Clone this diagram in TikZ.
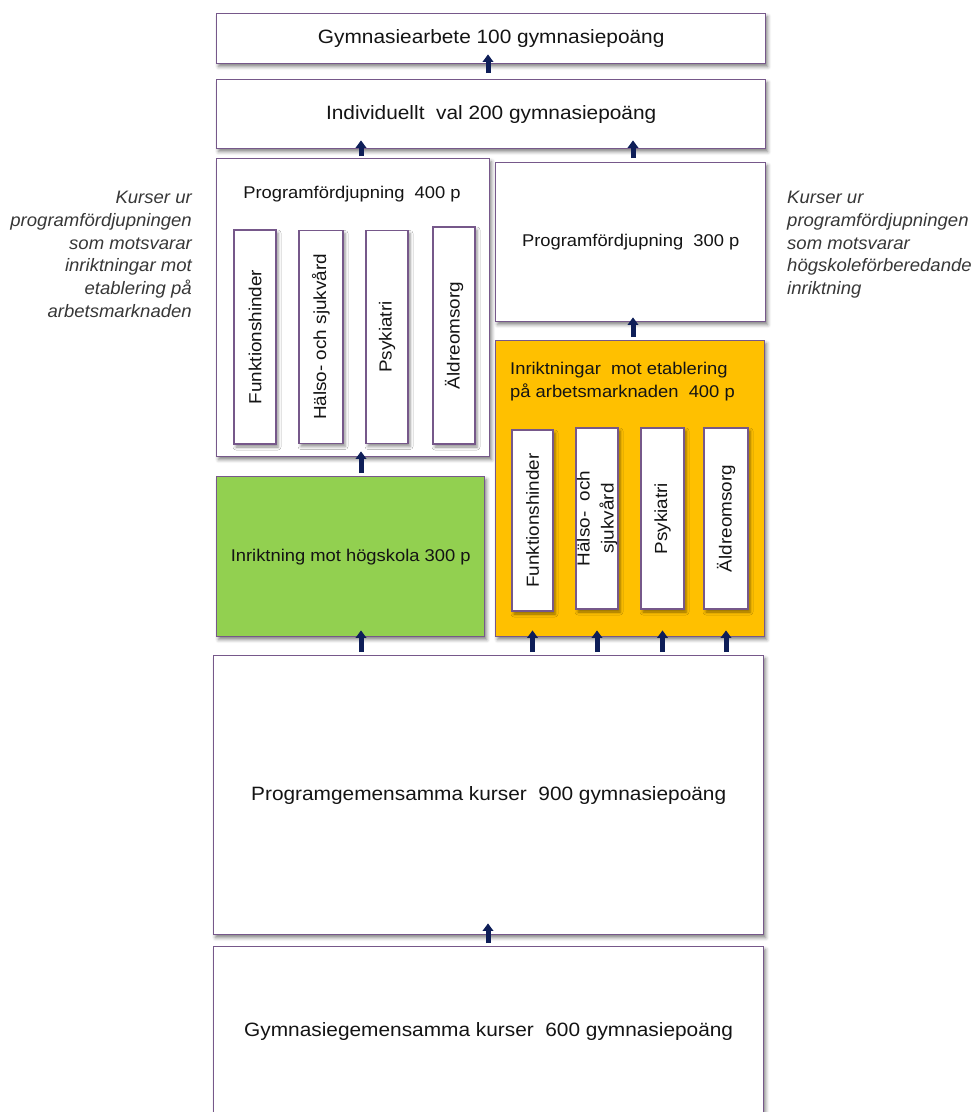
\documentclass[tikz,border=0pt]{standalone}
\usepackage{fontspec}
\setmainfont{Liberation Sans}[FakeStretch=1.08]
\newfontfamily\sidef{Liberation Sans}[FakeStretch=1.03]
\usetikzlibrary{arrows.meta,shadows.blur,calc}
\definecolor{bord}{RGB}{118,88,138}
\definecolor{navy}{RGB}{14,30,88}
\definecolor{grn}{RGB}{146,208,80}
\definecolor{org}{RGB}{255,192,0}
\definecolor{txt}{RGB}{20,20,20}
\definecolor{sidec}{RGB}{55,55,55}
\begin{document}
\begin{tikzpicture}[x=1pt,y=-1pt,
 box/.style={draw=bord, line width=1.4pt, fill=white, inner sep=0pt, anchor=north west, text=txt,
   blur shadow={shadow xshift=2pt,shadow yshift=-3pt,shadow blur radius=3.5pt,shadow opacity=50}},
 subbox/.style={draw=bord, line width=1.4pt, fill=white, inner sep=0pt, anchor=center,
   blur shadow={shadow xshift=2pt,shadow yshift=-3pt,shadow blur radius=3pt,shadow opacity=45}},
 big/.style={font=\fontsize{19.3}{22}\selectfont},
 mid/.style={font=\fontsize{17}{22.5}\selectfont, text=txt},
 rot/.style={font=\fontsize{17.5}{24}\selectfont, text=txt, rotate=90, inner sep=0pt, align=center},
 arr/.style={navy, line width=5pt, -{Triangle[width=10.5pt,length=7.5pt]}},
 sidetxt/.style={text=sidec, font=\sidef\fontsize{18}{22.8}\selectfont\itshape, inner sep=0pt}
]
\useasboundingbox (0,0) rectangle (974,1112);

% top boxes
\node[box,big,minimum width=549pt,minimum height=50pt] (b1) at (216,13) {Gymnasiearbete 100 gymnasiepoäng};
\node[box,big,minimum width=549pt,minimum height=69pt] (b2) at (216,79) {Individuellt\ \ val 200 gymnasiepoäng};

% left programfördjupning
\node[box,minimum width=273pt,minimum height=298pt] (pf4) at (216,158) {};
\node[mid,inner sep=0pt] (t4) at (352,194) {Programfördjupning\ \ 400 p};
\node[subbox,minimum width=42pt,minimum height=214pt] (lf) at (255,337) {};
\node[rot] (lft) at (lf) {Funktionshinder};
\node[subbox,minimum width=44pt,minimum height=213pt] (lh) at (321,337) {};
\node[rot] (lht) at (lh) {Hälso- och sjukvård};
\node[subbox,minimum width=42pt,minimum height=213pt] (lp) at (387,337) {};
\node[rot] (lpt) at (lp) {Psykiatri};
\node[subbox,minimum width=42pt,minimum height=217pt] (la) at (454,335.5) {};
\node[rot] (lat) at (la) {Äldreomsorg};

% right programfördjupning
\node[box,mid,minimum width=270pt,minimum height=159pt] (pf3) at (495,162) {Programfördjupning\ \ 300 p};

% orange
\node[box,fill=org,minimum width=269pt,minimum height=296pt] (org) at (495,340) {};
\node[mid,inner sep=0pt,align=left,anchor=north west] (ot) at (510,362) {Inriktningar\ \ mot etablering\\på arbetsmarknaden\ \ 400 p};
\node[subbox,minimum width=41pt,minimum height=181pt] (of) at (532.5,520.5) {};
\node[rot] (oft) at (of) {Funktionshinder};
\node[subbox,minimum width=42pt,minimum height=181pt] (oh) at (597,518.5) {};
\node[rot] (oht) at (oh) {Hälso-\ \ och\\sjukvård};
\node[subbox,minimum width=43pt,minimum height=181pt] (op) at (662.5,518.5) {};
\node[rot] (opt) at (op) {Psykiatri};
\node[subbox,minimum width=44pt,minimum height=181pt] (oa) at (726,518.5) {};
\node[rot] (oat) at (oa) {Äldreomsorg};

% green
\node[box,mid,fill=grn,minimum width=268pt,minimum height=160pt] (gr) at (216,476) {Inriktning mot högskola 300 p};

% bottom boxes
\node[box,big,minimum width=550pt,minimum height=279pt] (pg) at (213,655) {Programgemensamma kurser\ \ 900 gymnasiepoäng};
\node[box,big,minimum width=550pt,minimum height=170pt] (gg) at (213,946) {Gymnasiegemensamma kurser\ \ 600 gymnasiepoäng};

% side texts
\node[sidetxt,align=right,anchor=north east] (sl) at (192,191) {Kurser ur\\programfördjupningen\\som motsvarar\\inriktningar mot\\etablering på\\arbetsmarknaden};
\node[sidetxt,align=left,anchor=north west] (sr) at (787,191) {Kurser ur\\programfördjupningen\\som motsvarar\\högskoleförberedande\\inriktning};

% arrow columns
\coordinate (cm) at (488,0);
\coordinate (cl) at (361,0);
\coordinate (cr) at (633,0);

\draw[arr] ($(b2.north -| cm)+(0,-6)$) -- ($(b1.south -| cm)+(0,-10)$);
\draw[arr] ($(pf4.north -| cl)+(0,-2)$) -- ($(b2.south -| cl)+(0,-9)$);
\draw[arr] ($(pf3.north -| cr)+(0,-4)$) -- ($(b2.south -| cr)+(0,-9)$);
\draw[arr] ($(org.north -| cr)+(0,-3)$) -- ($(pf3.south -| cr)+(0,-5)$);
\draw[arr] ($(gr.north -| cl)+(0,-3)$) -- ($(pf4.south -| cl)+(0,-6)$);
\draw[arr] ($(pg.north -| cl)+(0,-3)$) -- ($(gr.south -| cl)+(0,-7)$);
\draw[arr] ($(pg.north -| of)+(0,-3)$) -- ($(org.south -| of)+(0,-7)$);
\draw[arr] ($(pg.north -| oh)+(0,-3)$) -- ($(org.south -| oh)+(0,-7)$);
\draw[arr] ($(pg.north -| op)+(0,-3)$) -- ($(org.south -| op)+(0,-7)$);
\draw[arr] ($(pg.north -| oa)+(0,-3)$) -- ($(org.south -| oa)+(0,-7)$);
\draw[arr] ($(gg.north -| cm)+(0,-3)$) -- ($(pg.south -| cm)+(0,-12)$);
\end{tikzpicture}
\end{document}
